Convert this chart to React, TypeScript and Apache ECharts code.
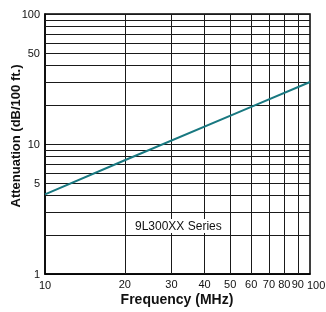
import React, { useEffect, useRef } from "react";
import * as echarts from "echarts";

const frequency = [10, 20, 60, 100];
const attenuation = [4.1, 7.5, 19.3, 30];
const xGridValues = [20, 30, 40, 50, 60, 70, 80, 90];
const yGridValues = [2, 3, 4, 5, 6, 7, 8, 9, 20, 30, 40, 50, 60, 70, 80, 90];
const yLabeledValues = [5, 50];
const seriesLabel = "9L300XX Series";
const xTitle = "Frequency (MHz)";
const yTitle = "Attenuation (dB/100 ft.)";

const FONT = "'Liberation Sans', Arial, sans-serif";

export default function App() {
  const ref = useRef<HTMLDivElement>(null);
  useEffect(() => {
    if (!ref.current) return;
    const chart = echarts.init(ref.current, undefined, { renderer: "svg" });
    const gridLine = { color: "#1a1a1a", width: 1, type: "solid" as const };
    const tickText = { color: "#111", fontSize: 11, fontFamily: FONT };
    const markData: any[] = [];
    xGridValues.forEach((v) => {
      markData.push({
        xAxis: v,
        lineStyle: gridLine,
        label: { show: true, position: "start", formatter: String(v), distance: 4, ...tickText },
      });
    });
    yGridValues.forEach((v) => {
      const labeled = yLabeledValues.includes(v);
      markData.push({
        yAxis: v,
        lineStyle: gridLine,
        label: { show: labeled, position: "start", formatter: String(v), distance: 5, ...tickText },
      });
    });
    chart.setOption({
      animation: false,
      grid: {
        left: 45, right: 16, top: 14, bottom: 38,
        outerBoundsMode: "none", containLabel: false,
        show: true, borderColor: "#000", borderWidth: 1.5, backgroundColor: "transparent",
      },
      xAxis: {
        type: "log",
        logBase: 10,
        min: 10,
        max: 100,
        axisLine: { show: true, lineStyle: { color: "#000", width: 1.5 } },
        axisTick: { show: false },
        splitLine: { show: false },
        axisLabel: {
          ...tickText,
          margin: 5,
          formatter: (v: number) => (v >= 100 ? "{p|" + v + "}" : String(v)),
          rich: { p: { width: 6, align: "left", ...tickText } },
        },
      },
      yAxis: {
        type: "log",
        logBase: 10,
        min: 1,
        max: 100,
        axisLine: { show: true, lineStyle: { color: "#000", width: 1.5 } },
        axisTick: { show: false },
        splitLine: { show: true, lineStyle: { color: "#1a1a1a", width: 1 } },
        axisLabel: { ...tickText, margin: 5 },
      },
      graphic: [
        {
          type: "text",
          left: 133,
          top: 219,
          z: 100,
          style: {
            text: seriesLabel, fill: "#111", fontSize: 12, fontFamily: FONT,
            backgroundColor: "#fff", padding: [1, 2, 1, 2],
          },
        },
        {
          type: "text",
          x: 177,
          y: 299,
          style: { text: xTitle, fill: "#111", fontSize: 14, fontWeight: "bold", fontFamily: FONT, align: "center", verticalAlign: "middle" },
        },
        {
          type: "text",
          x: 15,
          y: 136,
          rotation: Math.PI / 2,
          style: { text: yTitle, fill: "#111", fontSize: 13, fontWeight: "bold", fontFamily: FONT, align: "center", verticalAlign: "middle" },
        },
      ],
      series: [
        {
          type: "line",
          data: frequency.map((f, i) => [f, attenuation[i]]),
          showSymbol: false,
          silent: true,
          z: 1,
          lineStyle: { opacity: 0 },
          markLine: { silent: true, symbol: "none", animation: false, data: markData },
        },
        {
          type: "line",
          data: frequency.map((f, i) => [f, attenuation[i]]),
          showSymbol: false,
          silent: true,
          z: 5,
          lineStyle: { color: "#187880", width: 2 },
        },
      ],
    });
    return () => chart.dispose();
  }, []);
  return <div ref={ref} style={{ position: "fixed", left: 0, top: 0, width: 326, height: 312 }} />;
}
